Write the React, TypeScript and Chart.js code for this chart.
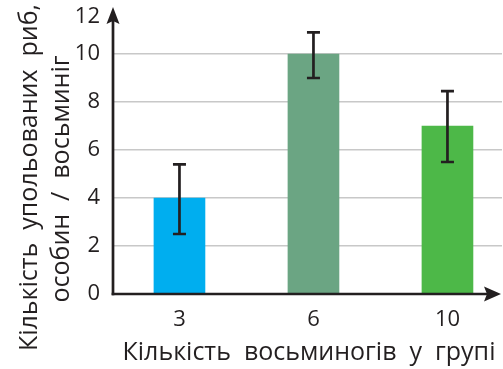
import React, { useEffect, useRef } from "react";
import { Chart, registerables } from "chart.js";

Chart.register(...registerables);

const categories = ["3", "6", "10"];
const values = [4, 10, 7];
const errLow = [2.5, 9.0, 5.5];
const errHigh = [5.4, 10.9, 8.45];
const barColors = ["#00aeef", "#6ba583", "#4db848"];
const yTickValues = [0, 2, 4, 6, 8, 10, 12];
const xTitle = "Кількість  восьминогів  у  групі";
const yTitleLines = ["Кількість  упольованих  риб,", "особин  /  восьминіг"];

const INK = "#231f20";
const FONT = "'Open Sans', 'Noto Sans', sans-serif";

const customPlugin = {
  id: "customDraw",
  afterDatasetsDraw(chart: any) {
    const { ctx } = chart;
    const xs = chart.scales.x;
    const ys = chart.scales.y;
    ctx.save();
    ctx.strokeStyle = INK;
    ctx.lineWidth = 2.7;
    ctx.lineCap = "butt";
    const cap = 6.5;
    values.forEach((_, i) => {
      const x = xs.getPixelForValue(i);
      const yl = ys.getPixelForValue(errLow[i]);
      const yh = ys.getPixelForValue(errHigh[i]);
      ctx.beginPath();
      ctx.moveTo(x, yl);
      ctx.lineTo(x, yh);
      ctx.moveTo(x - cap, yl);
      ctx.lineTo(x + cap, yl);
      ctx.moveTo(x - cap, yh);
      ctx.lineTo(x + cap, yh);
      ctx.stroke();
    });
    ctx.restore();
  },
  afterDraw(chart: any) {
    const { ctx, chartArea } = chart;
    const ys = chart.scales.y;
    const left = chartArea.left;
    const bottom = chartArea.bottom;
    ctx.save();
    ctx.strokeStyle = INK;
    ctx.fillStyle = INK;
    ctx.lineWidth = 2.7;
    // y axis
    const tipY = chartArea.top + 1;
    ctx.beginPath();
    ctx.moveTo(left, bottom + 1.35);
    ctx.lineTo(left, tipY + 12);
    ctx.stroke();
    ctx.beginPath();
    ctx.moveTo(left, tipY);
    ctx.lineTo(left - 6.5, tipY + 17);
    ctx.lineTo(left, tipY + 14);
    ctx.lineTo(left + 6.5, tipY + 17);
    ctx.closePath();
    ctx.fill();
    // x axis
    const tipX = chartArea.right - 1;
    ctx.beginPath();
    ctx.moveTo(left - 1.35, bottom);
    ctx.lineTo(tipX - 12, bottom);
    ctx.stroke();
    ctx.beginPath();
    ctx.moveTo(tipX, bottom);
    ctx.lineTo(tipX - 17, bottom - 7.5);
    ctx.lineTo(tipX - 14, bottom);
    ctx.lineTo(tipX - 17, bottom + 7.5);
    ctx.closePath();
    ctx.fill();

    // y tick labels
    ctx.font = `22px ${FONT}`;
    ctx.textAlign = "right";
    ctx.textBaseline = "middle";
    yTickValues.forEach((v) => {
      const py = Math.max(ys.getPixelForValue(v), chartArea.top + 11);
      ctx.fillText(String(v), left - 13, py);
    });

    // titles
    ctx.font = `25px ${FONT}`;
    ctx.textAlign = "center";
    ctx.textBaseline = "alphabetic";
    ctx.fillText(xTitle, 309, 360);
    const yCenters = [177.5, 179];
    const yBase = [37, 69];
    yTitleLines.forEach((line, i) => {
      ctx.save();
      ctx.translate(yBase[i], yCenters[i]);
      ctx.rotate(-Math.PI / 2);
      ctx.fillText(line, 0, 0);
      ctx.restore();
    });
    ctx.restore();
  },
};

export default function App() {
  const ref = useRef<HTMLCanvasElement | null>(null);
  useEffect(() => {
    if (!ref.current) return;
    const chart = new Chart(ref.current, {
      type: "bar",
      data: {
        datasets: [
          {
            data: values.map((v, i) => ({ x: i, y: v })),
            backgroundColor: barColors,
            borderWidth: 0,
            barThickness: 51,
          },
        ],
      },
      options: {
        animation: false,
        responsive: false,
        devicePixelRatio: 1,
        layout: { autoPadding: false, padding: { left: 0, right: 1, top: 6, bottom: 0 } },
        plugins: { legend: { display: false }, tooltip: { enabled: false } },
        scales: {
          x: {
            type: "linear",
            min: -0.496,
            max: 2.407,
            offset: false,
            afterFit: (s: any) => {
              s.height = 75;
            },
            afterBuildTicks: (s: any) => {
              s.ticks = categories.map((_, i) => ({ value: i }));
            },
            grid: { display: false, drawTicks: false, offset: false },
            border: { display: false },
            ticks: {
              padding: 13,
              color: INK,
              font: { family: FONT, size: 22 },
              maxRotation: 0,
              autoSkip: false,
              callback: (v: any) => categories[v] ?? "",
            },
          },
          y: {
            min: 0,
            max: 12,
            afterFit: (s: any) => {
              s.width = 113;
            },
            afterBuildTicks: (s: any) => {
              s.ticks = yTickValues.map((v) => ({ value: v }));
            },
            grid: {
              drawTicks: false,
              lineWidth: 1.5,
              color: (c: any) =>
                c.tick && (c.tick.value === 0 || c.tick.value === 12) ? "rgba(0,0,0,0)" : "#c8c8c8",
            },
            border: { display: false },
            ticks: { display: false },
          },
        },
      },
      plugins: [customPlugin],
    });
    return () => chart.destroy();
  }, []);
  return (
    <div style={{ position: "absolute", left: 0, top: 0, width: 503, height: 369, background: "#fff" }}>
      <canvas ref={ref} width={503} height={369} />
    </div>
  );
}
